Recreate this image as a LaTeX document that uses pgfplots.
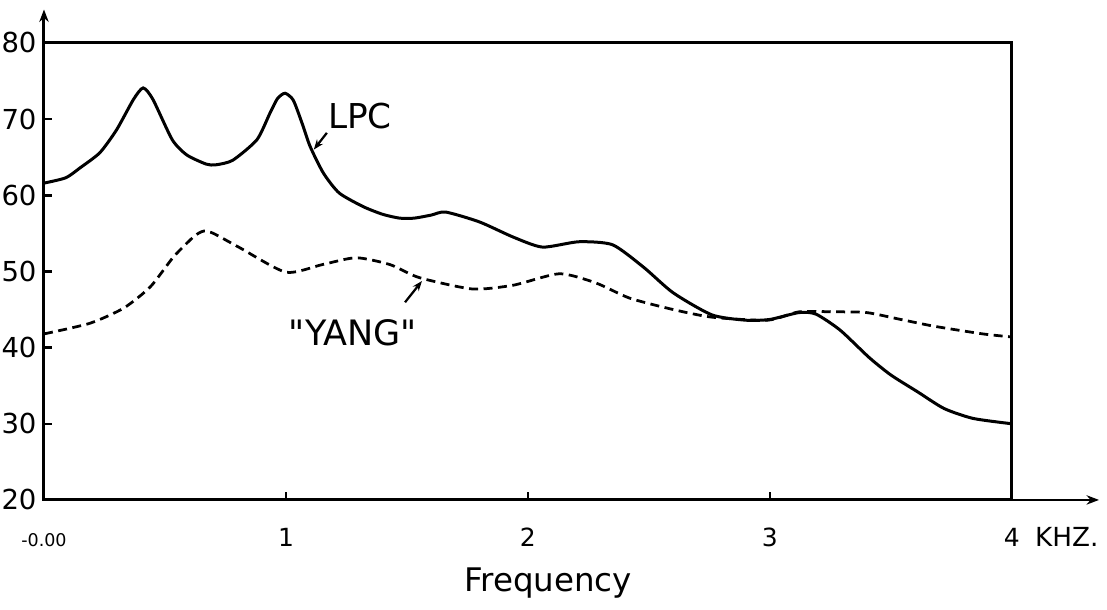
\documentclass[border=0pt]{standalone}
\usepackage{pgfplots}
\pgfplotsset{compat=1.18}
\usepackage{fontspec}
\setmainfont{DejaVu Sans}
\usetikzlibrary{arrows.meta}
\begin{document}
\begin{tikzpicture}
\begin{axis}[
  scale only axis, width=387.2pt, height=182.8pt,
  xmin=0, xmax=4, ymin=20, ymax=80,
  clip=false,
  axis line style={line width=1.2pt},
  xtick={0,1,2,3,4},
  xticklabels={{\fontsize{7}{8}\selectfont -0.00},1,2,3,4},
  ytick={20,30,40,50,60,70,80},
  yticklabels={20,30,40,50,60,70,80},
  xtick pos=bottom, ytick pos=left,
  tick style={black, line width=1pt},
  major tick length=3.2pt,
  tick align=inside,
  xticklabel style={anchor=base, inner sep=0pt, yshift=-18.8pt, font=\fontsize{10}{12}\selectfont},
  yticklabel style={anchor=east, inner sep=0pt, xshift=-2.8pt, font=\fontsize{11}{13}\selectfont},
]
\addplot[black, line width=1.2pt, smooth, tension=0.4] coordinates {
(0,61.6) (0.09,62.3) (0.149,63.6) (0.231,65.6) (0.30,68.6) (0.37,72.6) (0.41,74.1)
(0.45,72.6) (0.53,67.3) (0.59,65.3) (0.67,64.1) (0.71,64.0) (0.78,64.6) (0.88,67.3) (0.934,70.8)
(0.965,72.7) (0.996,73.4) (1.03,72.5) (1.065,69.6) (1.10,66.4) (1.155,62.9) (1.22,60.3) (1.32,58.5)
(1.40,57.5) (1.47,57.0) (1.53,57.0) (1.60,57.4) (1.66,57.8) (1.80,56.5) (1.94,54.5) (2.06,53.2)
(2.21,53.9) (2.35,53.5) (2.48,50.5) (2.60,47.2) (2.76,44.3) (2.90,43.6) (3.0,43.7) (3.12,44.6)
(3.19,44.4) (3.29,42.3) (3.41,38.7) (3.50,36.4) (3.61,34.2) (3.72,32.0) (3.84,30.7) (4.0,30.0)
};
\addplot[black, line width=1.1pt, smooth, tension=0.4, dash pattern=on 3.6pt off 2.2pt] coordinates {
(0,41.8) (0.19,43.2) (0.33,45.2) (0.44,48.0) (0.535,51.9) (0.62,54.6) (0.66,55.3)
(0.70,55.0) (0.81,53.1) (1.0,49.9) (1.15,50.9) (1.29,51.8) (1.43,50.9) (1.55,49.2) (1.77,47.7)
(1.94,48.2) (2.13,49.7) (2.28,48.5) (2.42,46.5) (2.60,45.0) (2.76,44.0) (2.99,43.6) (3.12,44.7)
(3.26,44.7) (3.40,44.6) (3.54,43.7) (3.68,42.8) (3.88,41.8) (4.0,41.4)
};
% axis arrows
\draw[line width=1.2pt, -{Stealth[length=5pt]}] (axis cs:0,80) -- (axis cs:0,84.4);
\draw[line width=1.1pt, -{Stealth[length=5pt]}] (axis cs:4,20) -- (axis cs:4.36,20);
% labels
\node[anchor=base, inner sep=0pt, font=\fontsize{10.5}{12}\selectfont] at (axis cs:4.227,13.83) {KHZ.};
\node[anchor=base, inner sep=0pt, font=\fontsize{13}{15}\selectfont] at (axis cs:2.083,7.92) {Frequency};
\node[inner sep=0pt, font=\fontsize{13.7}{16}\selectfont] at (axis cs:1.306,70.4) {LPC};
\node[inner sep=0pt, font=\fontsize{14}{16}\selectfont] at (axis cs:1.277,41.9) {\textquotedbl YANG\textquotedbl};
\draw[line width=0.9pt, -{Stealth[length=4pt]}] (axis cs:1.169,68.2) -- (axis cs:1.115,66.0);
\draw[line width=0.9pt, -{Stealth[length=4pt]}] (axis cs:1.492,45.95) -- (axis cs:1.562,48.75);
\coordinate (bl) at (axis cs:-0.1818,5.56);
\coordinate (tr) at (axis cs:4.393,85.645);
\end{axis}
\pgfresetboundingbox
\useasboundingbox (bl) rectangle (tr);
\end{tikzpicture}
\end{document}
